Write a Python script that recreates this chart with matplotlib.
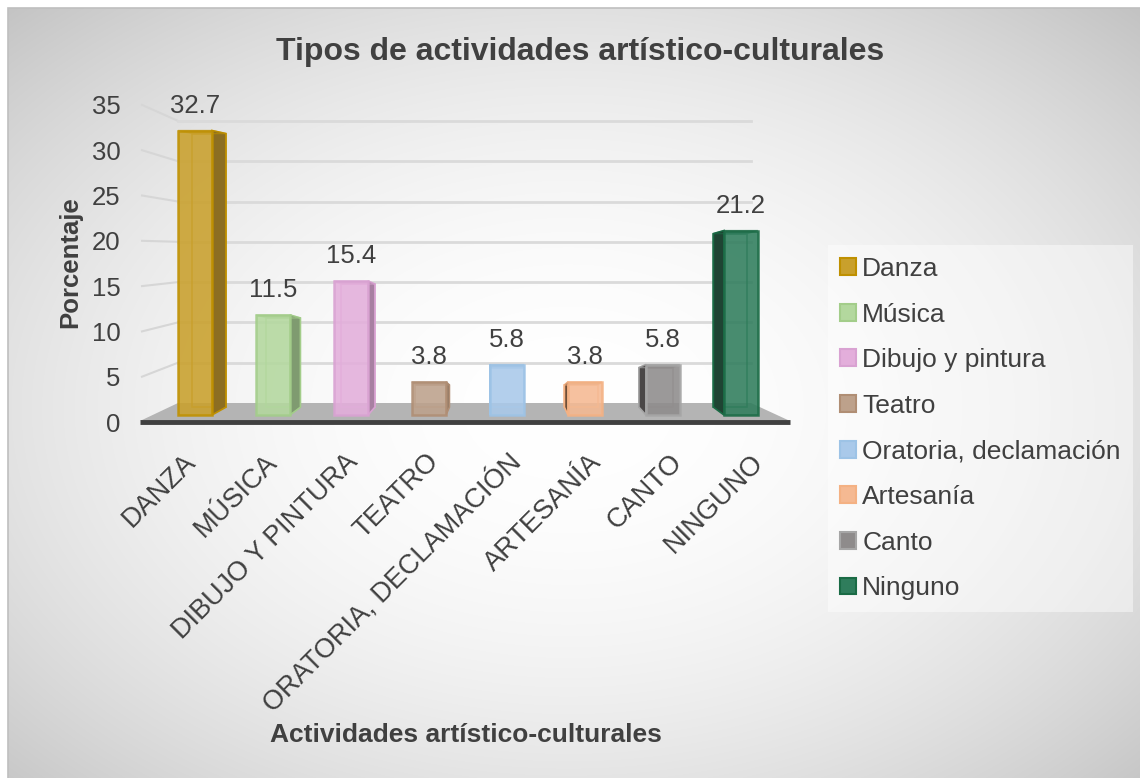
#coding=utf-8
import numpy as np
import matplotlib
matplotlib.use('Agg')
import matplotlib.pyplot as plt
from matplotlib.patches import Polygon, Rectangle, Patch

plt.rcParams['font.family'] = ['Liberation Sans', 'DejaVu Sans']
texto = '#404040'  # color de todos los textos

# datos
categorias = ['DANZA', 'MÚSICA', 'DIBUJO Y PINTURA', 'TEATRO',
              'ORATORIA, DECLAMACIÓN', 'ARTESANÍA', 'CANTO', 'NINGUNO']
leyenda = ['Danza', 'Música', 'Dibujo y pintura', 'Teatro',
           'Oratoria, declamación', 'Artesanía', 'Canto', 'Ninguno']
porcentajes = [32.7, 11.5, 15.4, 3.8, 5.8, 3.8, 5.8, 21.2]
ticks_y = [0, 5, 10, 15, 20, 25, 30, 35]

# colores: cara frontal, borde, cara lateral
relleno = ['#C9A02C', '#B3D89E', '#E3AEDB', '#BDA18B', '#A9C9EA', '#F5B992', '#8E8B8B', '#2F7D5C']
borde = ['#BF9000', '#A3CD8A', '#D9A2D2', '#B08E74', '#9DC3E6', '#F4B183', '#A6A6A6', '#1A6B45']
lateral = ['#8C6E22', '#7F9B70', '#A880A2', '#8C7460', '#7890A8', '#6E4E38', '#4A4747', '#1F4433']

W, H = 1140, 778
fig = plt.figure(figsize=(W / 100, H / 100), dpi=100)

# fondo con degradado radial
bg = fig.add_axes([8 / W, 0, (W - 8) / W, (H - 8) / H], zorder=-10)
yy, xx = np.mgrid[0:H - 8, 0:W - 8]
u = (xx - 560) / 570.0
v = (yy - 400) / 390.0
val = np.clip(1.0 - 0.115 * (u ** 2 + v ** 2), 0.76, 1.0)
bg.imshow(np.dstack([val, val, val]), aspect='auto', extent=(0, 1, 0, 1), origin='upper')
bg.set_xlim(0, 1); bg.set_ylim(0, 1)
bg.axis('off')
fig.patches.append(plt.Rectangle((8 / W, -0.01), 1.0, (H - 8) / H + 0.01, transform=fig.transFigure,
                                 fill=False, edgecolor='#BFBFBF', lw=1.2, zorder=-5))

# conversion pixel -> datos (perspectiva aproximada)
PX0, PXS, PY0, PYS = 195.0, 78.0, 415.0, 8.7
def dxp(px):
    return (px - PX0) / PXS
def dyp(py):
    return (PY0 - py) / PYS

ax = fig.add_axes([137 / W, 1 - 428 / H, (797 - 137) / W, (428 - 97) / H])
ax.set_xlim(dxp(137), dxp(797))
ax.set_ylim(dyp(428), dyp(97))
ax.patch.set_alpha(0)
for s in ax.spines.values():
    s.set_visible(False)

# paredes y piso
for t in ticks_y[1:]:
    yb = dyp(403 - 8.06 * t)
    ax.plot([dxp(142), dxp(178)], [dyp(422 - 9.06 * t), yb], color='#D6D6D6', lw=1.5, zorder=1)
    ax.plot([dxp(178), dxp(751)], [yb, yb], color='#DADADA', lw=2, zorder=1)
piso = Polygon([(dxp(140), dyp(421)), (dxp(178), dyp(403)), (dxp(751), dyp(403)), (dxp(790), dyp(421))],
               closed=True, facecolor='#B4B4B4', edgecolor='none', zorder=2)
ax.add_patch(piso)
ax.plot([dxp(140), dxp(790)], [dyp(422), dyp(422)], color='#404040', lw=3.5, zorder=3,
        solid_capstyle='butt')

# barras 3D
w = 34 / PXS
for i, p in enumerate(porcentajes):
    x0, x1 = i - w / 2, i + w / 2
    ds = 0.045 * (505 - (PX0 + PXS * i)) / PXS
    b0, b1 = 0.9, p - 0.35
    # cara trasera
    ax.add_patch(Rectangle((x0 + ds, b0), w, b1 - b0, fill=False, edgecolor=borde[i], lw=1.2,
                           alpha=0.7, zorder=4))
    # cara lateral
    xe = x1 if ds > 0 else x0
    ax.add_patch(Polygon([(xe, 0), (xe + ds, b0), (xe + ds, b1), (xe, p)], closed=True,
                         facecolor=lateral[i], edgecolor=borde[i], lw=1.2, zorder=5))
    # cara superior
    ax.add_patch(Polygon([(x0, p), (x1, p), (x1 + ds, b1), (x0 + ds, b1)], closed=True,
                         facecolor=lateral[i], edgecolor=borde[i], lw=1.0, alpha=0.6, zorder=5))
    # cara frontal
    ax.add_patch(Rectangle((x0, 0), w, p, facecolor=relleno[i], edgecolor=borde[i], lw=1.8,
                           alpha=0.88, zorder=6))
    ax.annotate(f'{p:.1f}', (i, p), xytext=(0, 18), textcoords='offset points', ha='center',
                va='center', fontsize=18.5, color=texto, zorder=7)

# ejes
ax.set_yticks([dyp(422 - 9.06 * t) for t in ticks_y], [str(t) for t in ticks_y])
c = 3.93
ax.set_xticks([c + (i - c) * 1.04 for i in range(len(categorias))], categorias,
              rotation=45, ha='right', va='top', rotation_mode='anchor')
ax.tick_params(axis='y', length=0, pad=12, labelsize=18.5, labelcolor=texto)
ax.tick_params(axis='x', length=0, pad=15, labelsize=19.5, labelcolor=texto)

fig.text(580 / W, 1 - 60 / H, 'Tipos de actividades artístico-culturales', ha='center',
         va='baseline', fontsize=23, fontweight='bold', color=texto)
fig.text(466 / W, 1 - 742 / H, 'Actividades artístico-culturales', ha='center',
         va='baseline', fontsize=19, fontweight='bold', color=texto)
fig.text(70 / W, 1 - 262 / H, 'Porcentaje', ha='center', va='center', rotation=90,
         fontsize=18.5, fontweight='bold', color=texto)

# leyenda
handles = [Patch(facecolor=relleno[i], edgecolor=borde[i], lw=1.5, label=leyenda[i])
           for i in range(len(leyenda))]
leg = fig.legend(handles=handles, loc='upper left', bbox_to_anchor=(828 / W, 1 - 245 / H),
                 fontsize=19, frameon=True, fancybox=False, handlelength=0.6, handleheight=0.6,
                 handletextpad=0.25, labelspacing=0.82, borderpad=0.45, borderaxespad=0)
leg.get_frame().set_facecolor('white')
leg.get_frame().set_alpha(0.45)
leg.get_frame().set_edgecolor('none')
for t in leg.get_texts():
    t.set_color(texto)

fig.savefig('out.png', dpi=100)
